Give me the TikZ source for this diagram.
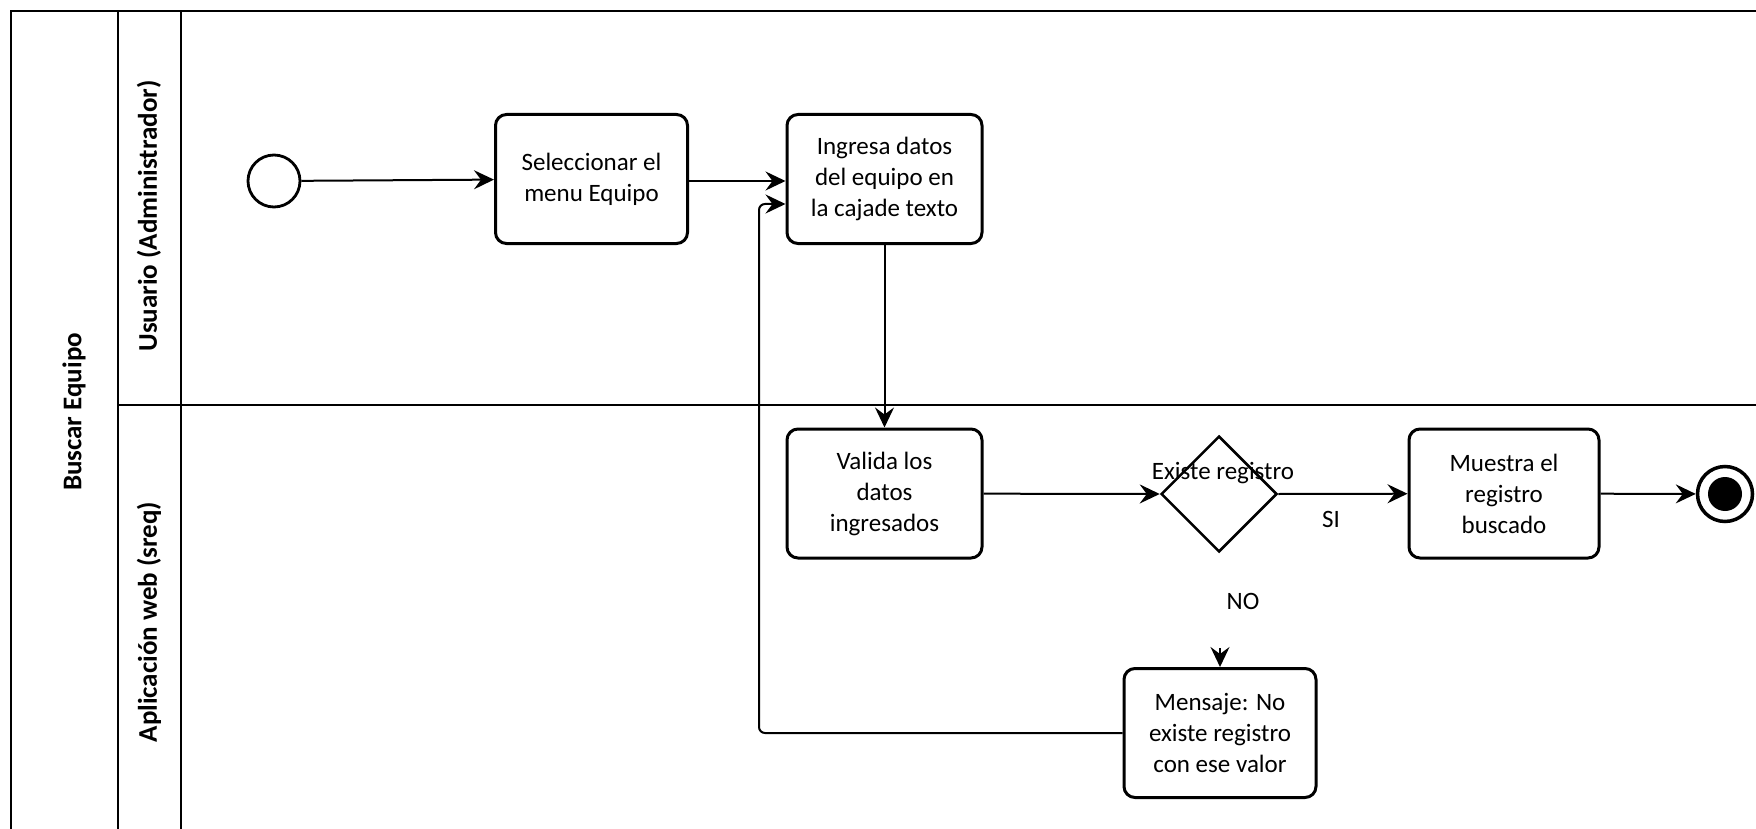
\documentclass[tikz,border=0pt]{standalone}
\usepackage{fontspec}
\setmainfont{Carlito}
\usetikzlibrary{arrows.meta,shapes.geometric}
\begin{document}
\begin{tikzpicture}[x=1pt,y=-1pt,
  frame/.style={line width=2pt},
  task/.style={draw,line width=3pt,rounded corners=11pt,minimum width=192pt,minimum height=129pt,
    align=center,inner sep=2pt,font=\fontsize{25}{31}\selectfont},
  flow/.style={line width=2pt,-{Stealth[length=20pt,width=19pt,inset=7pt]}},
  lanelabel/.style={rotate=90,font=\bfseries\fontsize{27}{30}\selectfont},
  txt/.style={font=\fontsize{25}{28}\selectfont,inner sep=0pt}]
\useasboundingbox (0,0) rectangle (1756,829);
% pool and lanes
\draw[frame] (11,829) -- (11,11) -- (1756,11);
\draw[frame] (118,11) -- (118,829);
\draw[frame] (181,11) -- (181,829);
\draw[frame] (118,405) -- (1756,405);
\node[lanelabel] (pool) at (74,412) {Buscar Equipo};
\node[lanelabel] (lane1) at (149,216) {Usuario (Administrador)};
\node[lanelabel] (lane2) at (149,622) {Aplicación web (sreq)};
% events
\node[draw,circle,line width=2.8pt,minimum size=52pt,inner sep=0pt] (start) at (274,181) {};
\node[draw,circle,line width=3.5pt,minimum size=55pt,inner sep=0pt] (end) at (1725,494) {};
\fill (end.center) circle (17pt);
% activities
\node[task] (sel) at (591.5,179) {Seleccionar el\\menu Equipo};
\node[task,minimum width=195pt] (ing) at (884.5,179) {Ingresa datos\\del equipo en\\la cajade texto};
\node[task,minimum width=195pt] (val) at (884.5,493.5) {Valida los\\datos\\ingresados};
\node[draw,diamond,line width=2.5pt,minimum width=116pt,minimum height=116pt,inner sep=0pt,aspect=1] (dec) at (1219,494) {};
\node[task,minimum width=190pt] (mue) at (1504,493.5) {Muestra el\\registro\\buscado};
\node[task] (msg) at (1220,733) {Mensaje: No\\existe registro\\con ese valor};
% labels
\node[txt] (exl) at (1223,473) {Existe registro};
\node[txt] (si) at (1331,519) {SI};
\node[txt] (no) at (1243,601) {NO};
% connectors
\draw[flow] (start) -- (sel);
\draw[flow] (sel.east |- 0,181) -- (ing.west |- 0,181);
\draw[flow] (ing) -- (val);
\draw[flow] (val) -- (dec.west);
\draw[flow] (dec.east) -- (mue);
\draw[flow] (mue) -- (end);
\coordinate (nostub) at (1220,648);
\draw[flow] (nostub) -- (msg.north);
\draw[flow,rounded corners=6pt] (msg.west) -- (759,733) -- (759,204) -- (ing.west |- 0,204);
\end{tikzpicture}
\end{document}
